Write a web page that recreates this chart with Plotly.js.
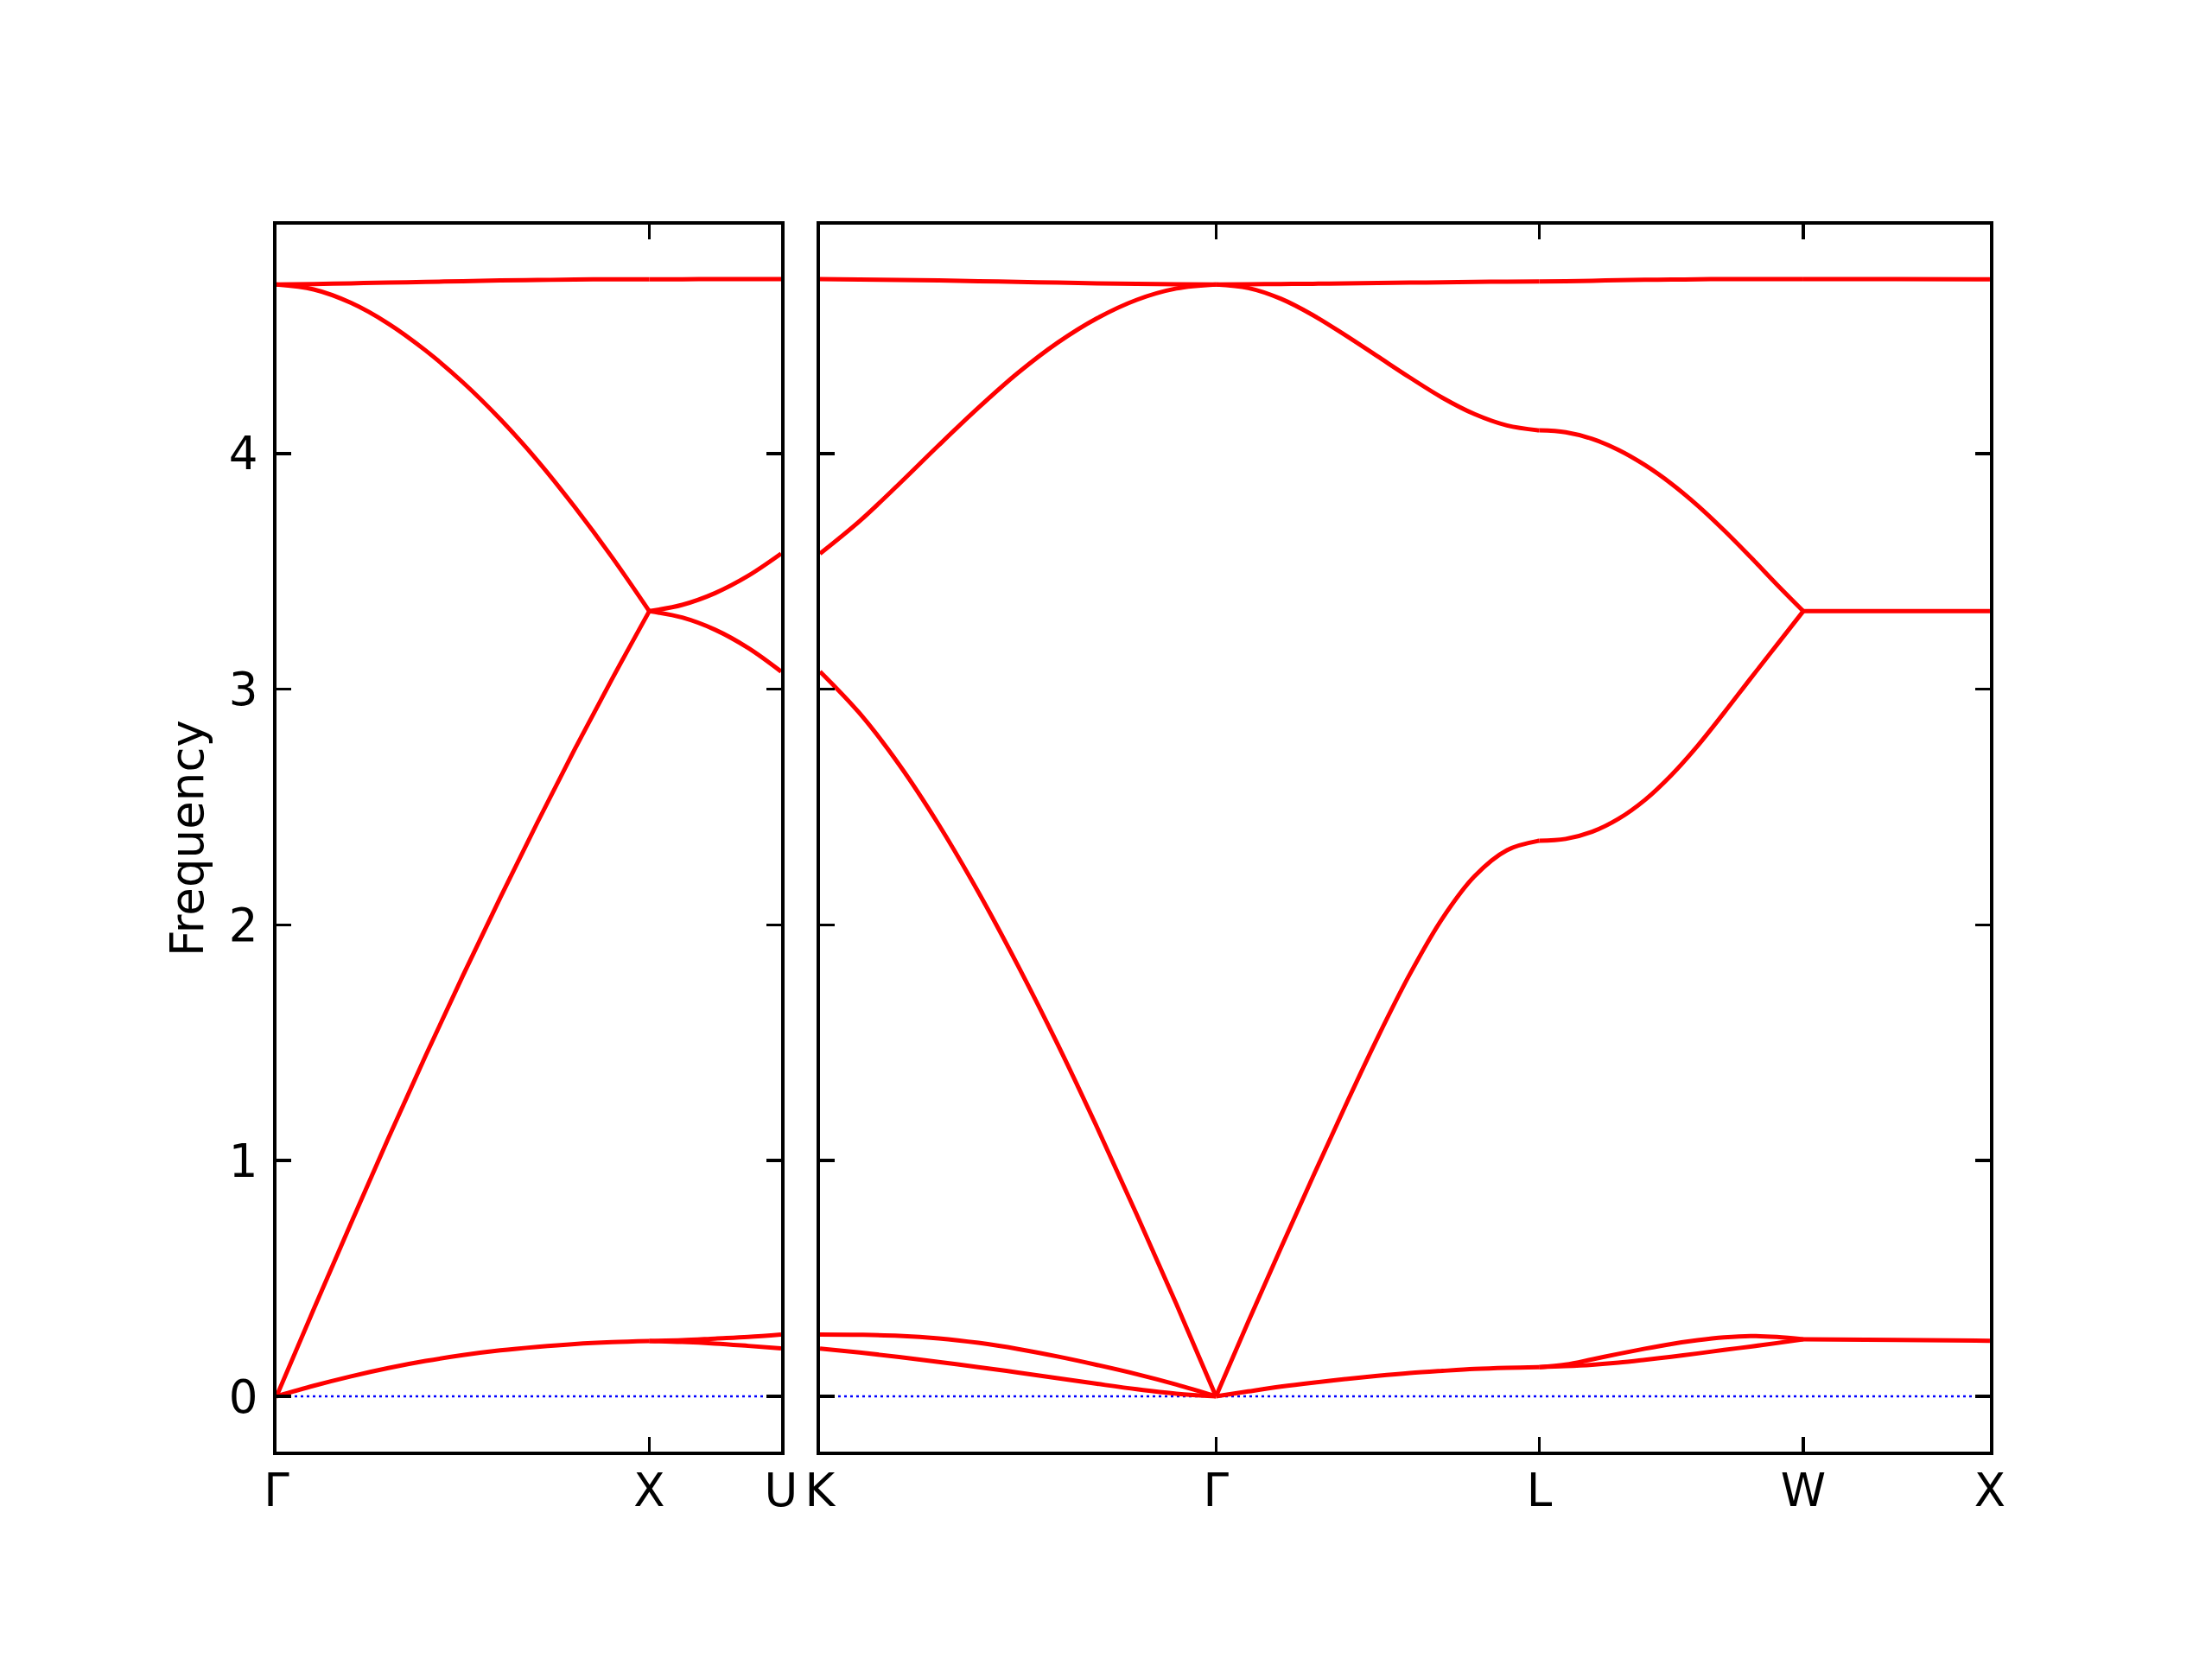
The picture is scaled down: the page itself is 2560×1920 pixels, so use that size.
<!DOCTYPE html>
<html>
<head>
<meta charset="utf-8">
<script src="https://cdn.plot.ly/plotly-3.0.1.min.js"></script>
<style>html,body{margin:0;padding:0;background:#fff;}#chart{width:2560px;height:1920px;}</style>
</head>
<body>
<div id="chart"></div>
<script>
// High-symmetry points (path distance) and labels
const leftTickVals = [0, 1.0, 1.3536];
const leftTickText = ['Γ', 'X', 'U'];
const rightTickVals = [0, 1.0607, 1.9267, 2.6338, 3.1338];
const rightTickText = ['K', 'Γ', 'L', 'W', 'X'];
const yTickVals = [0, 1, 2, 3, 4];

// fractional sample positions inside each segment
const t10 = [0, 0.1, 0.2, 0.3, 0.4, 0.5, 0.6, 0.7, 0.8, 0.9, 1];
const t4 = [0, 0.25, 0.5, 0.75, 1];
const t2 = [0, 0.5, 1];

// Γ–X
const gxTA = [0, 0.045, 0.085, 0.12, 0.15, 0.175, 0.195, 0.21, 0.222, 0.23, 0.235];
const gxLA = [0, 0.37, 0.735, 1.095, 1.445, 1.785, 2.115, 2.435, 2.745, 3.043, 3.331];
const gxLO = [4.717, 4.696, 4.639, 4.551, 4.437, 4.302, 4.146, 3.970, 3.773, 3.560, 3.331];
const gxTO = [4.717, 4.719, 4.722, 4.725, 4.728, 4.731, 4.734, 4.736, 4.738, 4.739, 4.739];
// X–U
const xuTA1 = [0.235, 0.238, 0.245, 0.252, 0.262];
const xuTA2 = [0.235, 0.231, 0.224, 0.214, 0.203];
const xuLA = [3.331, 3.304, 3.252, 3.175, 3.075];
const xuLO = [3.331, 3.358, 3.408, 3.481, 3.575];
const xuTO = [4.739, 4.739, 4.74, 4.74, 4.74];
// K–Γ
const kgTA1 = [0.262, 0.261, 0.257, 0.246, 0.227, 0.201, 0.169, 0.133, 0.094, 0.050, 0];
const kgTA2 = [0.203, 0.186, 0.167, 0.146, 0.124, 0.101, 0.077, 0.053, 0.030, 0.011, 0];
const kgLA = [3.075, 2.898, 2.680, 2.425, 2.139, 1.827, 1.494, 1.140, 0.771, 0.391, 0];
const kgLO = [3.575, 3.713, 3.871, 4.035, 4.194, 4.342, 4.470, 4.574, 4.652, 4.700, 4.717];
const kgTO = [4.74, 4.738, 4.736, 4.734, 4.731, 4.728, 4.725, 4.722, 4.72, 4.718, 4.717];
// Γ–L
const glTA = [0, 0.021, 0.041, 0.058, 0.073, 0.087, 0.099, 0.108, 0.116, 0.121, 0.124];
const glLA = [0, 0.317, 0.627, 0.932, 1.232, 1.522, 1.792, 2.027, 2.207, 2.317, 2.357];
const glLO = [4.717, 4.702, 4.657, 4.587, 4.502, 4.412, 4.322, 4.237, 4.167, 4.119, 4.098];
const glTO = [4.717, 4.718, 4.719, 4.72, 4.722, 4.723, 4.725, 4.726, 4.728, 4.729, 4.73];
// L–W
const lwTA1 = [0.124, 0.135, 0.157, 0.18, 0.202, 0.222, 0.238, 0.25, 0.256, 0.252, 0.242];
const lwTA2 = [0.124, 0.128, 0.134, 0.143, 0.155, 0.168, 0.182, 0.197, 0.211, 0.226, 0.242];
const lwLA = [2.357, 2.365, 2.395, 2.45, 2.53, 2.635, 2.76, 2.90, 3.045, 3.188, 3.331];
const lwLO = [4.098, 4.090, 4.062, 4.015, 3.951, 3.872, 3.779, 3.674, 3.561, 3.444, 3.331];
const lwTO = [4.73, 4.731, 4.733, 4.735, 4.737, 4.738, 4.739, 4.74, 4.74, 4.74, 4.74];
// W–X
const wxTA = [0.242, 0.239, 0.236];
const wxLA = [3.331, 3.331, 3.331];
const wxTO = [4.74, 4.74, 4.739];

const segments = [
  {xa: 'x', ya: 'y', a: leftTickVals[0], b: leftTickVals[1], t: t10, bands: [gxTA, gxLA, gxLO, gxTO]},
  {xa: 'x', ya: 'y', a: leftTickVals[1], b: leftTickVals[2], t: t4, bands: [xuTA1, xuTA2, xuLA, xuLO, xuTO]},
  {xa: 'x2', ya: 'y2', a: rightTickVals[0], b: rightTickVals[1], t: t10, bands: [kgTA1, kgTA2, kgLA, kgLO, kgTO]},
  {xa: 'x2', ya: 'y2', a: rightTickVals[1], b: rightTickVals[2], t: t10, bands: [glTA, glLA, glLO, glTO]},
  {xa: 'x2', ya: 'y2', a: rightTickVals[2], b: rightTickVals[3], t: t10, bands: [lwTA1, lwTA2, lwLA, lwLO, lwTO]},
  {xa: 'x2', ya: 'y2', a: rightTickVals[3], b: rightTickVals[4], t: t2, bands: [wxTA, wxLA, wxTO]}
];

const traces = [];
// zero reference line
traces.push({x: [leftTickVals[0], leftTickVals[2]], y: [0, 0], xaxis: 'x', yaxis: 'y', mode: 'lines',
  line: {color: '#0000ff', width: 2.5, dash: '3px,4px'}, hoverinfo: 'skip'});
traces.push({x: [rightTickVals[0], rightTickVals[4]], y: [0, 0], xaxis: 'x2', yaxis: 'y2', mode: 'lines',
  line: {color: '#0000ff', width: 2.5, dash: '3px,4px'}, hoverinfo: 'skip'});

segments.forEach(s => {
  const xs = s.t.map(v => s.a + v * (s.b - s.a));
  s.bands.forEach(b => {
    traces.push({x: xs, y: b, xaxis: s.xa, yaxis: s.ya, mode: 'lines',
      line: {color: '#ff0000', width: 5, shape: 'spline', smoothing: 1}});
  });
});

const axBase = {
  ticks: 'inside', ticklen: 17, tickwidth: 3.5, tickcolor: '#000',
  showline: true, linewidth: 4, linecolor: '#000', mirror: 'ticks',
  showgrid: false, zeroline: false, automargin: false, fixedrange: true,
  tickfont: {family: 'DejaVu Sans', size: 53, color: '#000'}
};
const yRange = [-0.2346, 4.971];
const yDomain = [0.125, 0.8646];

const layout = {
  width: 2560, height: 1920,
  margin: {l: 0, r: 0, t: 0, b: 0},
  paper_bgcolor: '#fff', plot_bgcolor: '#fff',
  showlegend: false,
  font: {family: 'DejaVu Sans', size: 53, color: '#000'},
  xaxis: Object.assign({}, axBase, {domain: [0.125, 0.353125], range: [leftTickVals[0], leftTickVals[2]],
    tickmode: 'array', tickvals: leftTickVals, ticktext: leftTickText, anchor: 'y', ticklabelstandoff: -5}),
  xaxis2: Object.assign({}, axBase, {domain: [0.3707, 0.8996], range: [rightTickVals[0], rightTickVals[4]],
    tickmode: 'array', tickvals: rightTickVals, ticktext: rightTickText, anchor: 'y2', ticklabelstandoff: -5}),
  yaxis: Object.assign({}, axBase, {domain: yDomain, range: yRange, tickmode: 'array', tickvals: yTickVals,
    anchor: 'x', ticklabelstandoff: 7,
    title: {text: 'Frequency', font: {family: 'DejaVu Sans', size: 53, color: '#000'}, standoff: 13}}),
  yaxis2: Object.assign({}, axBase, {domain: yDomain, range: yRange, tickmode: 'array', tickvals: yTickVals,
    anchor: 'x2', showticklabels: false})
};

Plotly.newPlot('chart', traces, layout, {staticPlot: true, displayModeBar: false});
</script>
</body>
</html>
